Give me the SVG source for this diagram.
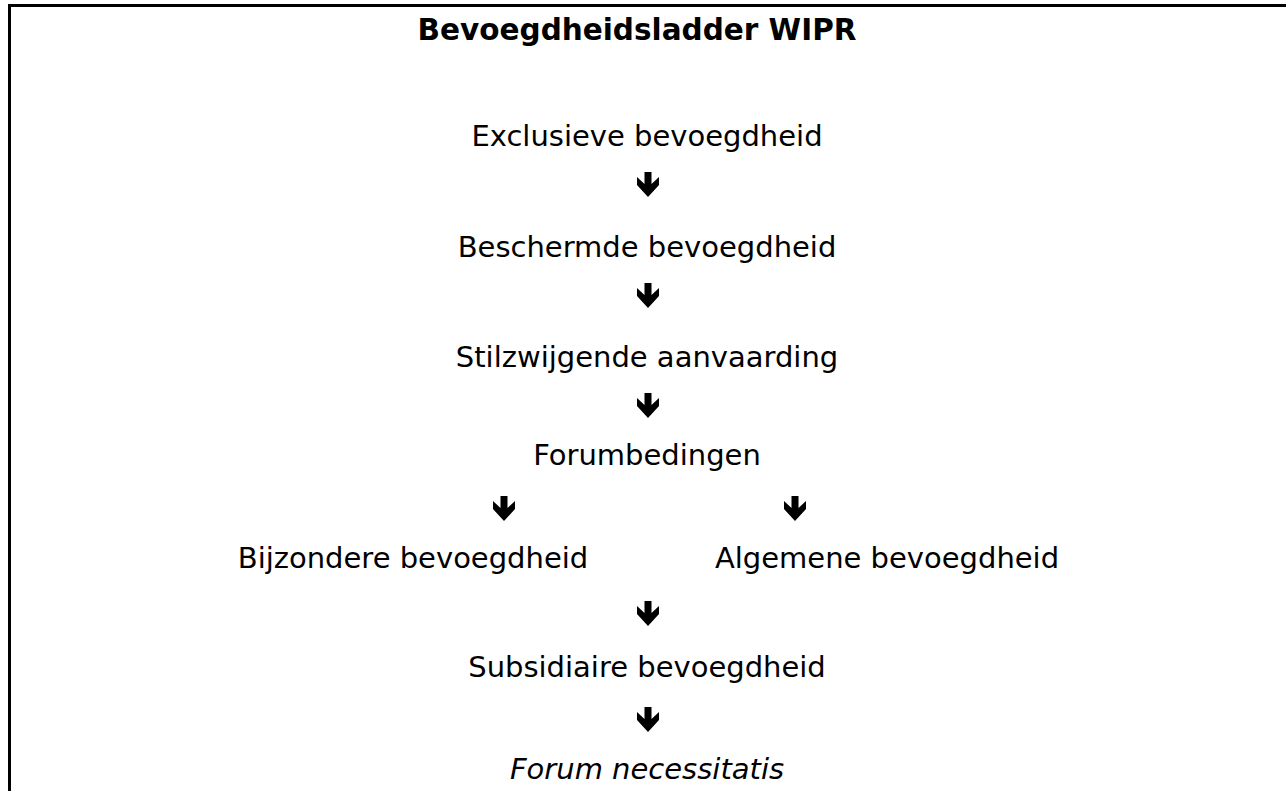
<svg xmlns="http://www.w3.org/2000/svg" xmlns:xlink="http://www.w3.org/1999/xlink" width="1286" height="791" viewBox="0 0 1286 791">
<style>
.t{font-family:"DejaVu Sans","Verdana",sans-serif;font-size:29px;fill:#000;text-anchor:middle}
.b{font-weight:bold;font-size:29.5px}
.i{font-style:italic}
.frame{stroke:#000;stroke-width:3;fill:none}
</style>
<defs>
<path id="arr" d="M-3.5,0 H3.5 V12 L11,5 V13 L0,25 L-11,13 V5 L-3.5,12 Z" fill="#000"/>
</defs>
<rect width="1286" height="791" fill="#fff"/>
<path class="frame" d="M9.5,800 V5.5 H1290"/>
<g id="title"><text class="t b" x="637" y="40">Bevoegdheidsladder WIPR</text></g>
<g id="n1"><text class="t" x="647" y="146">Exclusieve bevoegdheid</text></g>
<g id="n2"><text class="t" x="647" y="257">Beschermde bevoegdheid</text></g>
<g id="n3"><text class="t" x="647" y="367">Stilzwijgende aanvaarding</text></g>
<g id="n4"><text class="t" x="647" y="465">Forumbedingen</text></g>
<g id="n5"><text class="t" x="413" y="568">Bijzondere bevoegdheid</text></g>
<g id="n6"><text class="t" x="887" y="568">Algemene bevoegdheid</text></g>
<g id="n7"><text class="t" x="647" y="677">Subsidiaire bevoegdheid</text></g>
<g id="n8"><text class="t i" x="647" y="779">Forum necessitatis</text></g>
<g id="connectors">
<use xlink:href="#arr" x="648" y="172"/>
<use xlink:href="#arr" x="648" y="283"/>
<use xlink:href="#arr" x="648" y="393"/>
<use xlink:href="#arr" x="504" y="496"/>
<use xlink:href="#arr" x="795" y="496"/>
<use xlink:href="#arr" x="648" y="601"/>
<use xlink:href="#arr" x="648" y="707"/>
</g>
</svg>
